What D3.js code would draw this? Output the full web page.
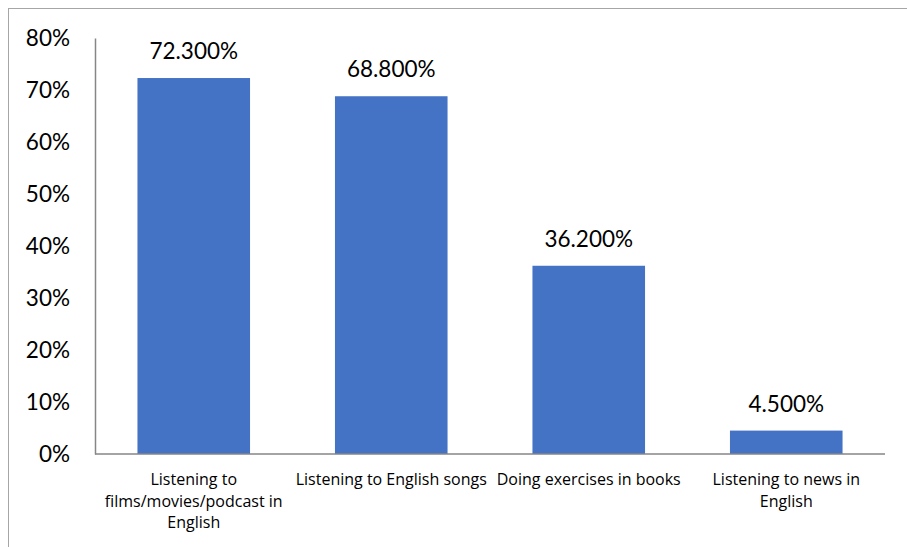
<!DOCTYPE html>
<html>
<head>
<meta charset="utf-8">
<script src="https://cdn.jsdelivr.net/npm/d3@7"></script>
<style>
  html, body { margin: 0; padding: 0; background: #fff; }
  svg { display: block; }
  text { font-family: Lato, "Open Sans", sans-serif; fill: #000; }
</style>
</head>
<body>
<svg id="chart" width="907" height="547"></svg>
<script>
// Learning activities and the share of respondents doing each
const categories = [
  ["Listening to", "films/movies/podcast in", "English"],
  ["Listening to English songs"],
  ["Doing exercises in books"],
  ["Listening to news in", "English"]
];
const values = [72.3, 68.8, 36.2, 4.5];
const yTicks = [0, 10, 20, 30, 40, 50, 60, 70, 80];

(function () {
  const svg = d3.select("#chart");
  const W = 907, H = 547;

  // outer frame
  svg.append("rect")
    .attr("x", 8.5).attr("y", 8.5)
    .attr("width", W).attr("height", H)
    .attr("fill", "none").attr("stroke", "#a6a6a6").attr("stroke-width", 1);

  const plotLeft = 95, plotRight = 885, plotTop = 38, plotBottom = 454;

  const x = d3.scaleBand()
    .domain(d3.range(values.length))
    .range([plotLeft, plotRight])
    .paddingInner(0.43)
    .paddingOuter(0.215);

  const y = d3.scaleLinear().domain([0, 80]).range([plotBottom, plotTop]);

  // bars
  svg.append("g").selectAll("rect")
    .data(values)
    .join("rect")
    .attr("x", (d, i) => x(i))
    .attr("y", d => y(d))
    .attr("width", x.bandwidth())
    .attr("height", d => y(0) - y(d))
    .attr("fill", "#4472c4");

  // value labels
  svg.append("g").selectAll("text")
    .data(values)
    .join("text")
    .attr("x", (d, i) => x(i) + x.bandwidth() / 2)
    .attr("y", d => y(d) - 19)
    .attr("text-anchor", "middle")
    .attr("font-size", 22.5)
    .text(d => d.toFixed(3) + "%");

  // y axis
  const yAxis = d3.axisLeft(y)
    .tickValues(yTicks)
    .tickFormat(d => d + "%")
    .tickSize(0)
    .tickPadding(25);
  const gy = svg.append("g").attr("transform", `translate(${plotLeft},0)`).call(yAxis);
  gy.select(".domain").attr("stroke", "#868686").attr("stroke-width", 1.5);
  gy.selectAll("text")
    .attr("font-size", 22.5)
    .attr("fill", "#000");

  // x axis baseline
  svg.append("line")
    .attr("x1", plotLeft).attr("x2", plotRight)
    .attr("y1", plotBottom).attr("y2", plotBottom)
    .attr("stroke", "#868686").attr("stroke-width", 1.5);

  // category labels
  const cat = svg.append("g").selectAll("text")
    .data(categories)
    .join("text")
    .attr("x", (d, i) => x(i) + x.bandwidth() / 2)
    .attr("y", 485)
    .attr("text-anchor", "middle")
    .style("font-family", "'Open Sans', Lato, sans-serif")
    .attr("font-size", 16);
  cat.selectAll("tspan")
    .data(d => d)
    .join("tspan")
    .attr("x", function () { return d3.select(this.parentNode).attr("x"); })
    .attr("dy", (d, i) => i === 0 ? 0 : 21.5)
    .text(d => d);
})();
</script>
</body>
</html>
